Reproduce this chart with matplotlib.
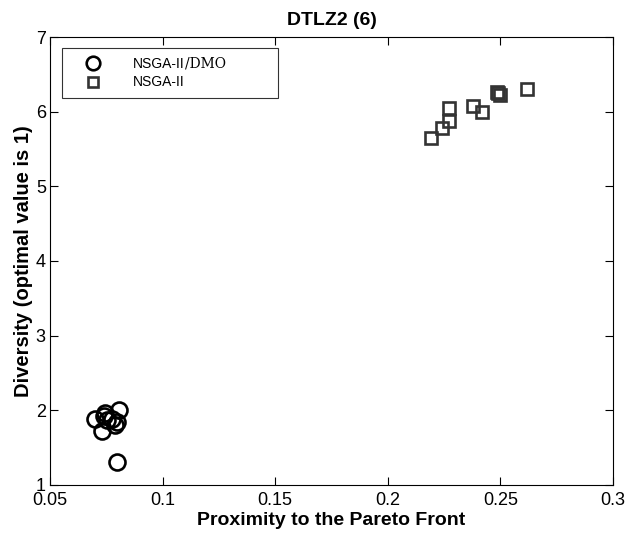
import matplotlib
matplotlib.use("Agg")
import matplotlib.pyplot as plt

plt.rcParams['font.family'] = ['Liberation Sans', 'DejaVu Sans']

# NSGA-II/DMO results (proximity, diversity)
dmo_proximity = [0.0700, 0.0731, 0.0744, 0.0753, 0.0775, 0.0797, 0.0788, 0.0740, 0.0805, 0.0797]
dmo_diversity = [1.89, 1.72, 1.96, 1.87, 1.89, 1.85, 1.80, 1.93, 2.00, 1.31]

# NSGA-II results (proximity, diversity)
nsga_proximity = [0.2192, 0.2241, 0.2272, 0.2272, 0.2378, 0.2418, 0.2485, 0.2498, 0.2490, 0.2618]
nsga_diversity = [5.65, 5.78, 5.87, 6.05, 6.07, 5.99, 6.26, 6.22, 6.25, 6.30]

x_ticks = [0.05, 0.1, 0.15, 0.2, 0.25, 0.3]
x_tick_labels = ['0.05', '0.1', '0.15', '0.2', '0.25', '0.3']
y_ticks = [1, 2, 3, 4, 5, 6, 7]

fig = plt.figure(figsize=(6.28, 5.34), dpi=100)
ax = fig.add_axes([0.0796, 0.0918, 0.8964, 0.8389])

ax.plot(dmo_proximity, dmo_diversity, linestyle='none', marker='o',
        markersize=11.5, markerfacecolor='none', markeredgecolor='black',
        markeredgewidth=1.9, label='NSGA-II')
ax.plot(nsga_proximity, nsga_diversity, linestyle='none', marker='s',
        markersize=8.5, markerfacecolor='none', markeredgecolor='#333333',
        markeredgewidth=1.9, label='NSGA-II')

ax.set_xlim(0.05, 0.3)
ax.set_ylim(1, 7)
ax.set_xticks(x_ticks)
ax.set_xticklabels(x_tick_labels)
ax.set_yticks(y_ticks)
ax.tick_params(direction='in', top=True, right=True, length=5.5, width=0.8,
               labelsize=13)
ax.tick_params(axis='x', pad=5)
ax.tick_params(axis='y', pad=3)
for s in ax.spines.values():
    s.set_linewidth(0.8)

ax.set_title('DTLZ2 (6)', fontsize=14, fontweight='bold', pad=9)
ax.set_xlabel('Proximity to the Pareto Front', fontsize=14, fontweight='bold', labelpad=2)
ax.set_ylabel('Diversity (optimal value is 1)', fontsize=14.5, fontweight='bold', labelpad=2)

leg = ax.legend(loc='upper left', bbox_to_anchor=(0.0213, 0.868, 0.384, 0.107),
                mode='expand', prop={'family': 'Liberation Sans', 'size': 10},
                frameon=True, fancybox=False,
                edgecolor='black', borderpad=0.6, handlelength=3.2,
                handletextpad=1.3, labelspacing=0.35, borderaxespad=0.0,
                markerscale=0.85)
leg.get_frame().set_linewidth(0.8)

# The first entry reads "NSGA-II/DMO", with the "/DMO" suffix set in a serif face
fig.canvas.draw()
first = leg.get_texts()[0]
bb = first.get_window_extent(fig.canvas.get_renderer())
x0, y0 = fig.transFigure.inverted().transform((bb.x1, bb.y0))
fig.text(x0, y0 + 3.0 / fig.bbox.height, '/DMO', family='DejaVu Serif',
         fontsize=10, ha='left', va='baseline', transform=fig.transFigure)

fig.savefig('out.png', dpi=100)
